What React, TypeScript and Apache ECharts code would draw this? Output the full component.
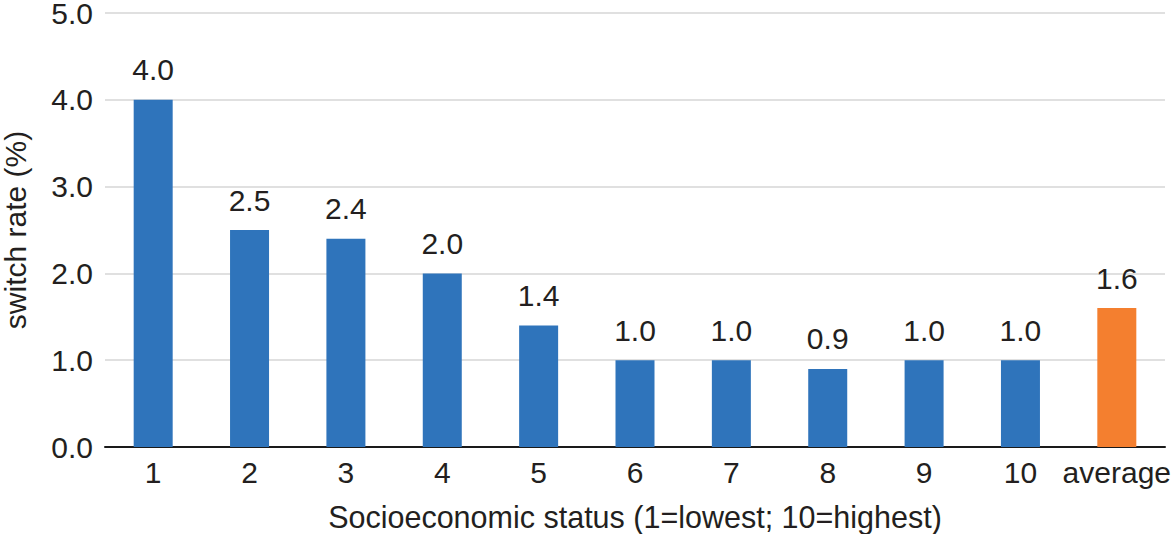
import React, { useEffect, useRef } from "react";
import * as echarts from "echarts";

const categories = ["1", "2", "3", "4", "5", "6", "7", "8", "9", "10", "average"];
const switchRates = [4.0, 2.5, 2.4, 2.0, 1.4, 1.0, 1.0, 0.9, 1.0, 1.0, 1.6];
const highlightCategory = "average";
const yAxisName = "switch rate (%)";
const xAxisName = "Socioeconomic status (1=lowest; 10=highest)";

const BLUE = "#2F74BB";
const ORANGE = "#F47F2F";
const FONT = "'Liberation Sans', Arial, Helvetica, sans-serif";
const TEXT = "#231F20";

export default function App() {
  const ref = useRef<HTMLDivElement>(null);
  useEffect(() => {
    document.body.style.margin = "0";
    if (!ref.current) return;
    const chart = echarts.init(ref.current, undefined, { renderer: "svg" });
    chart.setOption({
      animation: false,
      backgroundColor: "#ffffff",
      grid: {
        left: 105,
        right: 8,
        top: 13,
        bottom: 87,
        containLabel: false,
        outerBoundsMode: "none",
      },
      xAxis: {
        type: "category",
        data: categories,
        name: xAxisName,
        nameLocation: "middle",
        nameGap: 54,
        nameTextStyle: { fontSize: 30.5, color: TEXT, fontFamily: FONT },
        axisLine: { lineStyle: { color: "#1a1a1a", width: 2 } },
        axisTick: { show: false },
        axisLabel: { interval: 0, fontSize: 30, color: TEXT, fontFamily: FONT, margin: 10 },
      },
      yAxis: {
        type: "value",
        min: 0,
        max: 5,
        interval: 1,
        name: yAxisName,
        nameLocation: "middle",
        nameGap: 76,
        nameTextStyle: { fontSize: 30, lineHeight: 28, color: TEXT, fontFamily: FONT },
        axisLine: { show: false },
        axisTick: { show: false },
        splitLine: { lineStyle: { color: "#D6D6D6", width: 1.5 } },
        axisLabel: {
          fontSize: 30,
          lineHeight: 24,
          color: TEXT,
          fontFamily: FONT,
          margin: 12,
          formatter: (v: number) => v.toFixed(1),
        },
      },
      series: [
        {
          type: "bar",
          barWidth: 39,
          data: switchRates.map((v, i) => ({
            value: v,
            itemStyle: { color: categories[i] === highlightCategory ? ORANGE : BLUE },
          })),
          label: {
            show: true,
            position: "top",
            distance: 15,
            fontSize: 30,
            color: TEXT,
            fontFamily: FONT,
            formatter: (p: any) => Number(p.value).toFixed(1),
          },
        },
      ],
    });
    return () => chart.dispose();
  }, []);
  return (
    <div
      ref={ref}
      style={{ position: "absolute", left: 0, top: 0, width: 1173, height: 534 }}
    />
  );
}
